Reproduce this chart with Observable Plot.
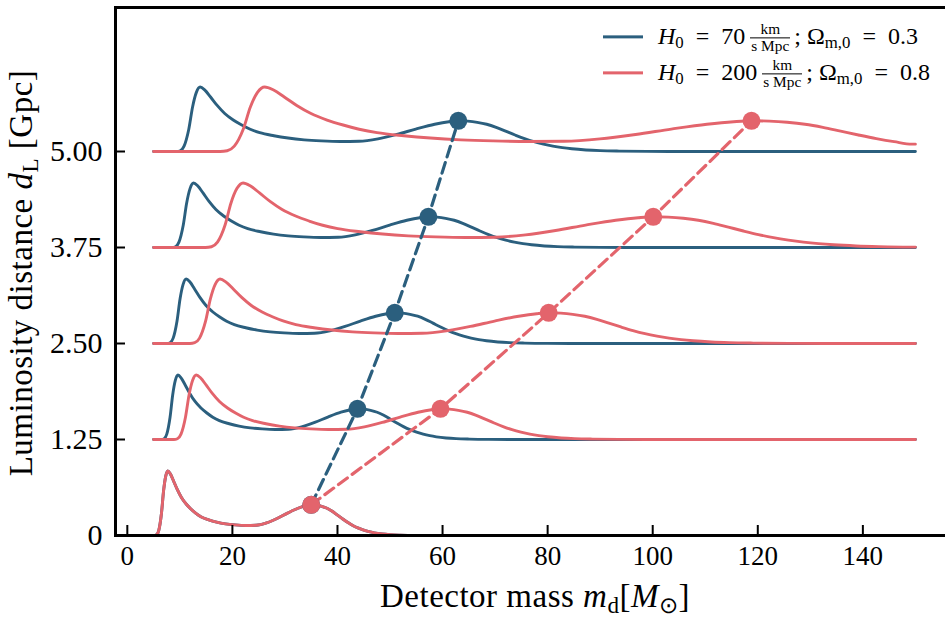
<!DOCTYPE html>
<html><head><meta charset="utf-8">
<script src="https://cdn.jsdelivr.net/npm/d3@7"></script>
<script src="https://cdn.jsdelivr.net/npm/@observablehq/plot@0.6"></script>
<style>
html,body{margin:0;padding:0;background:#fff;overflow:hidden}
#wrap{position:relative;width:945px;height:617px;overflow:hidden;font-family:"Liberation Serif",serif;color:#000}
#wrap svg{position:absolute;left:0;top:0;max-width:none !important}
.ov{position:absolute;white-space:nowrap;line-height:1}
.sb{font-size:0.7em;position:relative;top:0.28em}
.frac{display:inline-block;vertical-align:middle;text-align:center;font-size:0.64em;margin:0 4px 0 5px;line-height:1.05}
.frac .num{display:block;border-bottom:1px solid #000;padding:0 1px}
.frac .den{display:block;padding:0 1px}
.sw{display:inline-block;width:40px;height:3px;vertical-align:middle;margin-right:15px;position:relative;top:-1px}
</style>
</head><body>
<div id="wrap"></div>
<script>
// ---- data ----
const distances = [0, 1.25, 2.5, 3.75, 5.0];              // Gpc, baselines
const yTicks = [0, 1.25, 2.5, 3.75, 5.0];
const yTickLabels = ["0", "1.25", "2.50", "3.75", "5.00"];
const xTicks = [0, 20, 40, 60, 80, 100, 120, 140];
const bluePeaks = [35, 43.8, 50.9, 57.3, 63.0];           // H0=70, Om=0.3
const redPeaks  = [35, 59.6, 80.2, 100.1, 118.8];         // H0=200, Om=0.8
const bumpMass = 35;      // peak of the source-frame bump
const bumpHeight = 0.40;  // height of the bump above baseline
// source-frame mass profile (read off the bottom curve / stretched curves)
const baseMass   = [1, 5.2, 5.6, 6.0, 6.5, 6.9, 7.3, 7.7, 8.2, 8.8, 9.5, 10.3, 11.2, 12.1, 13.0, 14.0, 15.5, 17.0, 18.7, 20.5, 22.5, 24.5, 26.5, 28.5, 30.5, 32.5, 34.0, 35.0, 36.0, 37.0, 38.0, 39.0, 40.0, 41.0, 42.0, 43.0, 44.0, 45.0, 46.0, 47.0, 48.5, 50.0, 52.0, 55.0, 58.0];
const baseHeight = [0, 0, 0.01, 0.07, 0.29, 0.58, 0.77, 0.84, 0.80, 0.71, 0.60, 0.495, 0.41, 0.345, 0.29, 0.245, 0.205, 0.175, 0.152, 0.138, 0.13, 0.134, 0.165, 0.222, 0.292, 0.355, 0.388, 0.40, 0.395, 0.38, 0.355, 0.315, 0.265, 0.215, 0.168, 0.128, 0.096, 0.07, 0.05, 0.035, 0.02, 0.011, 0.005, 0.001, 0];
const massMin = 5, massMax = 150;
const blue = "#2b5f7e", red = "#e3646c";
const seriesNames = ["H0=70", "H0=200"];

// ---- build tables ----
function curve(d, peak, series) {
  const f = peak / bumpMass;
  const pts = [{x: massMin, y: d, series, d}];
  let lastH = 0;
  baseMass.forEach((m, i) => {
    const x = m * f;
    if (x > massMin && x <= massMax) { pts.push({x, y: d + baseHeight[i], series, d}); lastH = baseHeight[i]; }
  });
  pts.push({x: massMax, y: d + lastH, series, d});
  return pts;
}
const blueCurves = distances.flatMap((d, i) => curve(d, bluePeaks[i], seriesNames[0]));
const redCurves  = distances.flatMap((d, i) => curve(d, redPeaks[i], seriesNames[1]));
const blueDots = distances.map((d, i) => ({x: bluePeaks[i], y: d + bumpHeight}));
const redDots  = distances.map((d, i) => ({x: redPeaks[i], y: d + bumpHeight}));

const chart = Plot.plot({
  width: 960, height: 617,
  marginLeft: 115, marginRight: 7, marginTop: 7, marginBottom: 82,
  style: {fontFamily: "Liberation Serif", fontSize: "27px", color: "#000", background: "transparent", maxWidth: "none"},
  x: {domain: [-2.25, 157.25]},
  y: {domain: [0, 6.875]},
  marks: [
    Plot.lineY(blueCurves, {x: "x", y: "y", z: "d", stroke: blue, strokeWidth: 2.9, curve: "monotone-x"}),
    Plot.lineY(redCurves, {x: "x", y: "y", z: "d", stroke: red, strokeWidth: 2.9, curve: "monotone-x"}),
    Plot.line(blueDots, {x: "x", y: "y", stroke: blue, strokeWidth: 3.2, strokeDasharray: "11,6"}),
    Plot.line(redDots, {x: "x", y: "y", stroke: red, strokeWidth: 3.2, strokeDasharray: "11,6"}),
    Plot.dot(blueDots, {x: "x", y: "y", r: 9, fill: blue}),
    Plot.dot(redDots, {x: "x", y: "y", r: 9, fill: red}),
    Plot.axisX(xTicks, {tickSize: -10, tickPadding: 20, strokeWidth: 2, label: null, fontSize: 27}),
    Plot.axisY(yTicks, {tickSize: -10, tickPadding: 23, strokeWidth: 2, label: null, fontSize: 30,
      tickFormat: v => yTickLabels[yTicks.indexOf(v)]}),
    Plot.frame({stroke: "#000", strokeWidth: 3})
  ]
});
const wrap = document.getElementById("wrap");
wrap.appendChild(chart);

function ov(html, css) {
  const el = document.createElement("div");
  el.className = "ov";
  el.innerHTML = html;
  Object.assign(el.style, css);
  wrap.appendChild(el);
  return el;
}
ov('Detector mass <i>m</i><span class="sb">d</span>[<i>M</i><span class="sb">⊙</span>]',
   {left: "535px", top: "596px", fontSize: "33px", letterSpacing: "0.5px", transform: "translate(-50%,-50%)"});
ov('Luminosity distance <i>d</i><span class="sb">L</span> [Gpc]',
   {left: "21px", top: "273px", fontSize: "33px", letterSpacing: "0.5px", transform: "translate(-50%,-50%) rotate(-90deg)"});
const legendRows = [
  {color: blue, h: "70", om: "0.3", top: 38},
  {color: red, h: "200", om: "0.8", top: 74}
];
legendRows.forEach(r => {
  ov(`<span class="sw" style="background:${r.color}"></span><i>H</i><span class="sb">0</span>&ensp;=&ensp;${r.h}<span class="frac"><span class="num">km</span><span class="den">s Mpc</span></span>; Ω<span class="sb">m,0</span>&ensp;=&ensp;${r.om}`,
     {left: "603px", top: r.top + "px", fontSize: "24px", transform: "translateY(-50%)"});
});
</script>
</body></html>
